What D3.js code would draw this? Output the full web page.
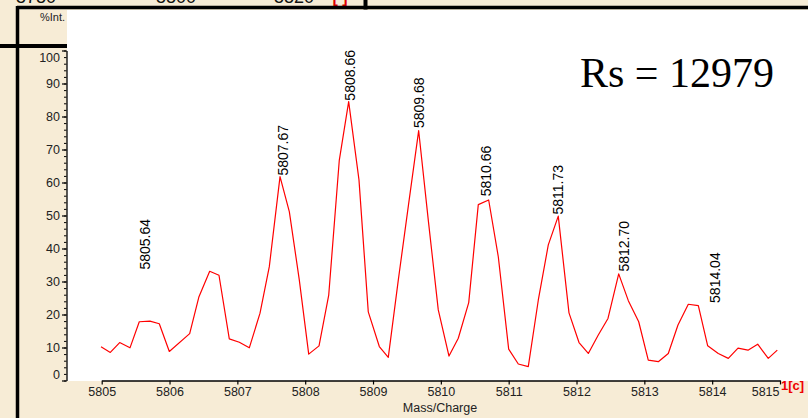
<!DOCTYPE html>
<html>
<head>
<meta charset="utf-8">
<script src="https://cdn.jsdelivr.net/npm/d3@7"></script>
<style>
  html, body { margin: 0; padding: 0; background: #F7ECD6; }
  svg { display: block; font-family: "Liberation Sans", Arial, sans-serif; }
</style>
</head>
<body>
<svg id="chart" width="808" height="418"></svg>
<script>
// Profile spectrum: m/z and relative intensity (%)
const masses = [
  5804.99, 5805.127, 5805.265, 5805.417, 5805.554, 5805.712, 5805.849, 5805.997,
  5806.297, 5806.434, 5806.592, 5806.729, 5806.881, 5807.029, 5807.176, 5807.334,
  5807.471, 5807.629, 5807.766, 5807.913, 5808.052, 5808.204, 5808.347, 5808.503,
  5808.641, 5808.793, 5808.930, 5809.093, 5809.225, 5809.373, 5809.523, 5809.673,
  5809.818, 5809.962, 5810.120, 5810.257, 5810.411, 5810.552, 5810.705, 5810.847,
  5811.000, 5811.142, 5811.289, 5811.437, 5811.584, 5811.731, 5811.889, 5812.037,
  5812.174, 5812.321, 5812.464, 5812.622, 5812.764, 5812.917, 5813.058, 5813.206,
  5813.353, 5813.496, 5813.648, 5813.796, 5813.934, 5814.090, 5814.238, 5814.381,
  5814.528, 5814.671, 5814.827, 5814.960
];
const intensities = [
  10.2, 8.5, 11.5, 9.9, 17.8, 18.0, 17.2, 8.8,
  14.2, 25.4, 33.1, 31.9, 12.6, 11.6, 9.9, 20.4,
  34.5, 61.8, 51.2, 30.5, 8.0, 10.5, 25.9, 66.8,
  84.5, 60.8, 20.8, 10.3, 7.0, 30.5, 53.2, 75.7,
  48.0, 21.4, 7.4, 12.8, 23.6, 53.3, 54.7, 37.5,
  9.5, 5.0, 4.2, 24.4, 41.1, 49.8, 20.5, 11.5,
  8.2, 13.8, 18.8, 32.3, 24.2, 17.8, 6.2, 5.7,
  8.2, 16.8, 23.1, 22.7, 10.5, 8.2, 6.7, 9.8,
  9.2, 11.0, 6.7, 9.2
];

// Centroid peak annotations and the intensity level each label starts at
const peakMasses = [5805.64, 5807.67, 5808.66, 5809.68, 5810.66, 5811.73, 5812.70, 5814.04];
const peakLabelLevels = [33.3, 61.8, 84.5, 76.2, 55.5, 50.0, 32.7, 23.2];

const xTickValues = [5805, 5806, 5807, 5808, 5809, 5810, 5811, 5812, 5813, 5814, 5815];
const yTickValues = [0, 10, 20, 30, 40, 50, 60, 70, 80, 90, 100];
const yMinorTickValues = d3.range(0, 101, 2);

const resolutionText = "Rs = 12979";
const topScaleLabels = ["5780", "5800", "5820"];

const SANS = '"Liberation Sans", Arial, sans-serif';
const SERIF = '"Liberation Serif", "Times New Roman", serif';

const svg = d3.select("#chart");

// Panel background and frame lines
svg.append("rect").attr("x", 0).attr("y", 0).attr("width", 808).attr("height", 418).attr("fill", "#F7ECD6");
svg.append("rect").attr("x", 67).attr("y", 10).attr("width", 741).attr("height", 371).attr("fill", "#ffffff");

// Overview scale labels running off the top edge
const topX = [36, 176, 294];
svg.selectAll("text.top").data(topScaleLabels).join("text")
  .attr("class", "top")
  .attr("x", (d, i) => topX[i]).attr("y", 3)
  .attr("text-anchor", "middle")
  .style("font-family", SANS).style("font-size", "18px")
  .attr("fill", "#111")
  .text(d => d);
svg.append("text").attr("x", 340).attr("y", 3).attr("text-anchor", "middle")
  .style("font-family", SANS).style("font-size", "16px").style("font-weight", "bold")
  .attr("fill", "#e00000").text("[ ]");

svg.append("line").attr("x1", 17).attr("x2", 808).attr("y1", 7.5).attr("y2", 7.5)
  .attr("stroke", "#000").attr("stroke-width", 3.5);
svg.append("line").attr("x1", 365.5).attr("x2", 365.5).attr("y1", 0).attr("y2", 9.5)
  .attr("stroke", "#000").attr("stroke-width", 4);
svg.append("line").attr("x1", 17.5).attr("x2", 17.5).attr("y1", 6).attr("y2", 418)
  .attr("stroke", "#000").attr("stroke-width", 3.5);
svg.append("line").attr("x1", 0).attr("x2", 67).attr("y1", 46).attr("y2", 46)
  .attr("stroke", "#000").attr("stroke-width", 4);

// Scales
const x = d3.scaleLinear().domain([5805, 5815]).range([101.7, 780]);
const y = d3.scaleLinear().domain([0, 100]).range([380.5, 50.5]);

// X axis
const xAxis = svg.append("g")
  .attr("transform", "translate(0,380.5)")
  .call(d3.axisBottom(x).tickValues(xTickValues).tickFormat(d3.format("d"))
    .tickSize(4).tickSizeOuter(0).tickPadding(3));
xAxis.select(".domain").attr("stroke", "#000").attr("stroke-width", 1.3);
xAxis.selectAll(".tick line").attr("stroke", "#000").attr("stroke-width", 1.2);
xAxis.selectAll(".tick text")
  .style("font-family", SANS).style("font-size", "12.5px").attr("fill", "#222");
// last label sits left of its tick so the trace tag fits beside it
xAxis.selectAll(".tick text").filter(d => d === 5815)
  .attr("text-anchor", "end").attr("x", -1);

// Y axis: minor ticks every 2 %, labelled major ticks every 10 %
const yMinor = svg.append("g")
  .attr("transform", "translate(66.5,0)")
  .call(d3.axisLeft(y).tickValues(yMinorTickValues).tickFormat("").tickSize(2.5).tickSizeOuter(0));
yMinor.select(".domain").attr("stroke", "#000").attr("stroke-width", 1.3);
yMinor.selectAll(".tick line").attr("stroke", "#000");

const yMajor = svg.append("g")
  .attr("transform", "translate(66.5,0)")
  .call(d3.axisLeft(y).tickValues(yTickValues).tickSize(4.5).tickSizeOuter(0).tickPadding(2));
yMajor.select(".domain").remove();
yMajor.selectAll(".tick line").attr("stroke", "#000").attr("stroke-width", 1.2);
yMajor.selectAll(".tick text")
  .style("font-family", SANS).style("font-size", "12.5px").attr("fill", "#222");
yMajor.selectAll(".tick text").filter(d => d === 100).attr("dy", "0.85em");
yMajor.selectAll(".tick text").filter(d => d === 0).attr("dy", "-0.15em");

// Axis titles
svg.append("text").attr("x", 65).attr("y", 21).attr("text-anchor", "end")
  .style("font-family", SANS).style("font-size", "11px").attr("fill", "#222").text("%Int.");
svg.append("text").attr("x", 440).attr("y", 412).attr("text-anchor", "middle")
  .style("font-family", SANS).style("font-size", "12.5px").attr("fill", "#222").text("Mass/Charge");
svg.append("text").attr("x", 781).attr("y", 390)
  .style("font-family", SANS).style("font-size", "13px").style("font-weight", "bold")
  .attr("fill", "#ee0000").text("1[c]");

// Spectrum trace
const points = masses.map((m, i) => [m, intensities[i]]);
svg.append("path")
  .datum(points)
  .attr("fill", "none")
  .attr("stroke", "#ff0000")
  .attr("stroke-width", 1.2)
  .attr("stroke-linejoin", "round")
  .attr("d", d3.line().x(d => x(d[0])).y(d => y(d[1])));

// Peak mass annotations, rotated
svg.selectAll("text.peak").data(peakMasses).join("text")
  .attr("class", "peak")
  .attr("transform", (d, i) => `translate(${x(d)},${y(peakLabelLevels[i]) - 1}) rotate(-90)`)
  .attr("dy", "0.36em")
  .style("font-family", SANS).style("font-size", "14px")
  .attr("fill", "#000")
  .text(d => d.toFixed(2));

// Resolution annotation
svg.append("text").attr("x", 580).attr("y", 87)
  .style("font-family", SERIF).style("font-size", "42px")
  .attr("fill", "#000").text(resolutionText);
</script>
</body>
</html>
